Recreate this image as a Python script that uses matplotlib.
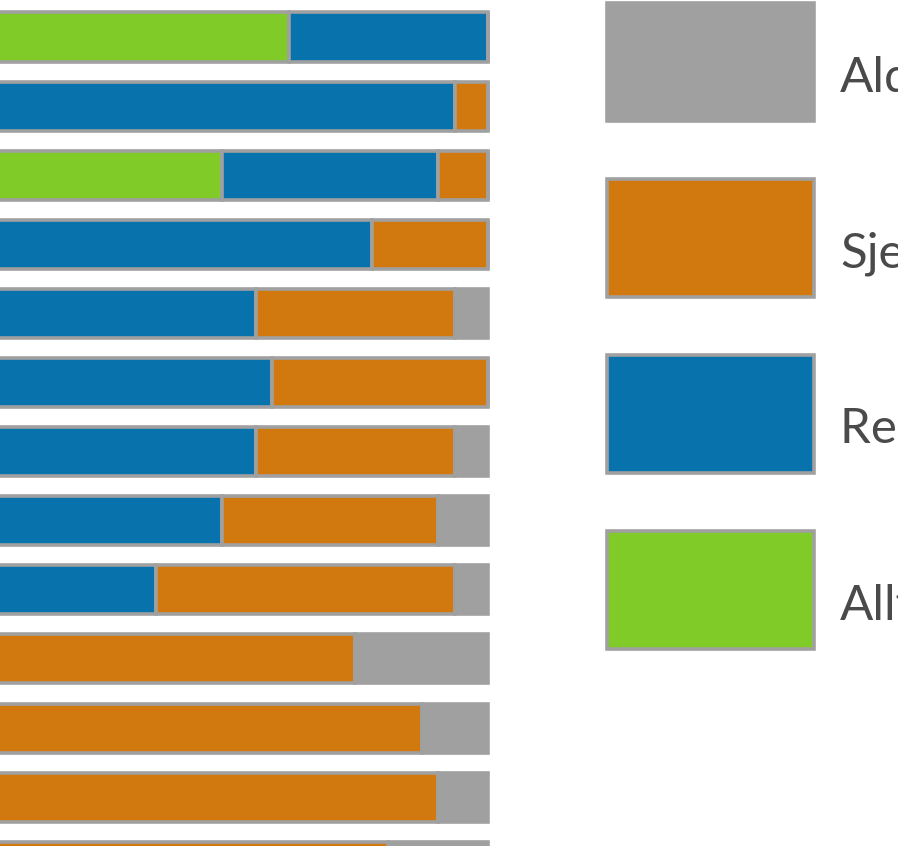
import matplotlib
matplotlib.use("Agg")
import matplotlib.pyplot as plt
from matplotlib.patches import Rectangle
import numpy as np

# Answer counts per row (30 respondents), stacked left to right
alltid = [18, 0, 14, 0, 0, 0, 0, 0, 0, 0, 0, 0, 0]
relativt_ofte = [12, 28, 13, 23, 16, 17, 16, 14, 10, 0, 0, 0, 0]
sjelden = [0, 2, 3, 7, 12, 13, 12, 13, 18, 22, 26, 27, 24]
aldri = [0, 0, 0, 0, 2, 0, 2, 3, 2, 8, 4, 3, 6]

labels = ["Aldri", "Sjelden", "Relativt ofte", "Alltid"]
colors = {"Aldri": "#a0a0a0", "Sjelden": "#d1780f",
          "Relativt ofte": "#0772ab", "Alltid": "#80cb28"}
edge = "#a0a0a0"

fig = plt.figure(figsize=(8.98, 8.46), dpi=100)
ax = fig.add_axes([0, 0, 1, 1])

rows = np.arange(len(alltid))
left = np.zeros(len(rows))
for name, vals in [("Alltid", alltid), ("Relativt ofte", relativt_ofte),
                   ("Sjelden", sjelden), ("Aldri", aldri)]:
    ax.barh(rows, vals, left=left, height=0.71, color=colors[name],
            edgecolor=edge, linewidth=2.6)
    left += np.array(vals)

# crop: x=0 sits just left of the image edge, rows fill the height
ax.set_xlim(0.602, 54.7)
ax.set_ylim(11.707, -0.535)
ax.axis("off")

# legend in pixel space
lax = fig.add_axes([0, 0, 1, 1])
lax.set_xlim(0, 898)
lax.set_ylim(846, 0)
lax.axis("off")
box_tops = [2, 178, 354, 530]
baselines = [92, 267, 443, 620]
for name, top, base in zip(labels, box_tops, baselines):
    lax.add_patch(Rectangle((607, top + 1.5), 206.5, 117.5,
                            facecolor=colors[name], edgecolor=edge,
                            linewidth=2.6))
    lax.text(840, base, name, fontsize=35.5, color="#4a4a4a",
             family="Lato", va="baseline", ha="left")

fig.savefig("out.png", dpi=100)
